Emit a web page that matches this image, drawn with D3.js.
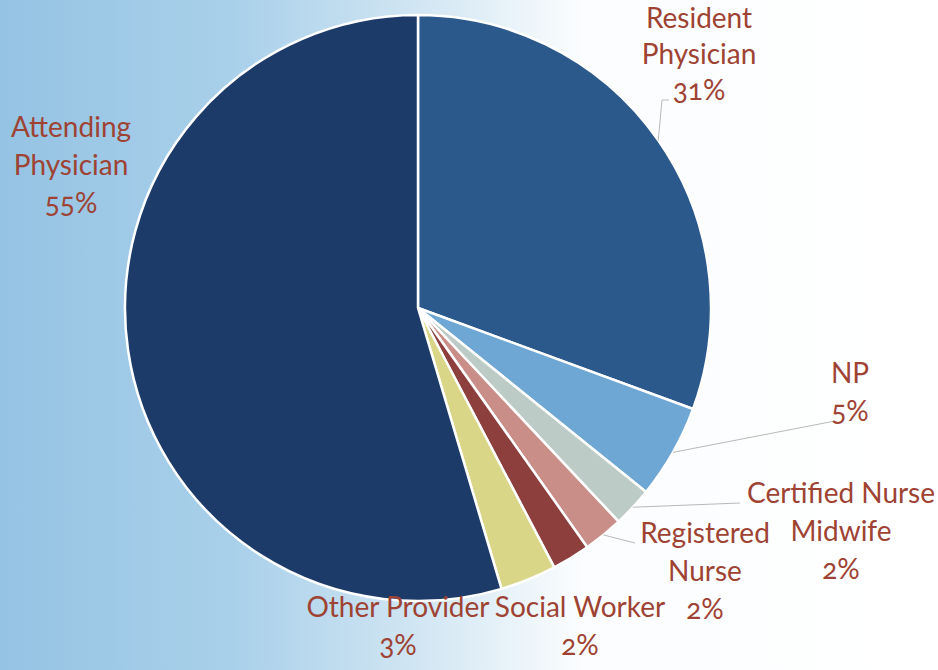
<!DOCTYPE html>
<html>
<head>
<meta charset="utf-8">
<script src="https://cdn.jsdelivr.net/npm/d3@7"></script>
<style>
  html, body { margin: 0; padding: 0; }
  body { width: 938px; height: 670px; overflow: hidden; }
  text { font-feature-settings: "onum" 1; }
</style>
</head>
<body>
<div id="chart"></div>
<script>

// provider shares, clockwise from 12 o'clock
var providers = ["Resident Physician", "NP", "Certified Nurse Midwife", "Registered Nurse",
                 "Social Worker", "Other Provider", "Attending Physician"];
var shares = [30.6, 5.2, 2.2, 2.2, 2.1, 3.1, 54.6];
var pctLabels = ["31%", "5%", "2%", "2%", "2%", "3%", "55%"];
var colors = ["#2b598c", "#6ea6d4", "#bccbc6", "#c88e87", "#8c3f3d", "#d9d787", "#1c3b69"];

// label lines for each slice (text broken as in the picture)
var labelLines = [
    ["Resident", "Physician", "31%"],
    ["NP", "5%"],
    ["Certified Nurse", "Midwife", "2%"],
    ["Registered", "Nurse", "2%"],
    ["Social Worker", "2%"],
    ["Other Provider", "3%"],
    ["Attending", "Physician", "55%"]
];

window.onload = function() {

    var width = 938,
        height = 670,
        cx = 418,
        cy = 308,
        radius = 293;

    var svg = d3.select("#chart").append("svg")
        .attr("width", width)
        .attr("height", height);

    // photo-like background: light blue on the left fading to white
    var defs = svg.append("defs");
    var grad = defs.append("linearGradient")
        .attr("id", "bg")
        .attr("x1", "0%").attr("y1", "0%")
        .attr("x2", "100%").attr("y2", "0%");
    grad.append("stop").attr("offset", "0%").attr("stop-color", "#95c3e3");
    grad.append("stop").attr("offset", "25%").attr("stop-color", "#a9d0ea");
    grad.append("stop").attr("offset", "45%").attr("stop-color", "#d2e6f3");
    grad.append("stop").attr("offset", "62%").attr("stop-color", "#fbfdfe");
    grad.append("stop").attr("offset", "100%").attr("stop-color", "#ffffff");

    svg.append("rect")
        .attr("width", width)
        .attr("height", height)
        .attr("fill", "url(#bg)");

    var pie = d3.pie()
        .sort(null)
        .value(function(d) { return d; });

    var arc = d3.arc()
        .innerRadius(0)
        .outerRadius(radius);

    var outer = d3.arc()
        .innerRadius(radius)
        .outerRadius(radius);

    var arcs = pie(shares);

    var g = svg.append("g")
        .attr("transform", "translate(" + cx + "," + cy + ")");

    g.selectAll("path.slice")
        .data(arcs)
        .enter().append("path")
        .attr("class", "slice")
        .attr("d", arc)
        .attr("fill", function(d, i) { return colors[i]; })
        .attr("stroke", "#ffffff")
        .attr("stroke-width", 2.5)
        .attr("stroke-linejoin", "round");

    // label placement (centre x, first baseline y)
    var labelPos = [
        [699, 28], [850, 383], [841, 503], [705, 543],
        [580, 617], [398, 617], [71, 137]
    ];
    var lineGap = 38;

    // leader lines: from slice edge to a point near the label
    var leaderEnds = [
        [[662, 100], [669, 100]],
        [[835, 421]],
        [[740, 503]],
        [[635, 543]],
        null, null, null
    ];

    arcs.forEach(function(d, i) {
        if (!leaderEnds[i]) return;
        var p = outer.centroid(d);
        var pts = [[cx + p[0], cy + p[1]]].concat(leaderEnds[i]);
        svg.append("path")
            .attr("d", d3.line()(pts))
            .attr("fill", "none")
            .attr("stroke", "#b9b9b9")
            .attr("stroke-width", 1);
    });

    var labels = svg.append("g")
        .attr("font-family", "Lato, 'Open Sans', sans-serif")
        .attr("font-size", 28)
        .attr("fill", "#9e4333")
        .attr("text-anchor", "middle");

    labelLines.forEach(function(lines, i) {
        var t = labels.append("text")
            .attr("x", labelPos[i][0])
            .attr("y", labelPos[i][1]);
        var gap = i === 0 ? 36 : lineGap;
        lines.forEach(function(s, j) {
            t.append("tspan")
                .attr("x", labelPos[i][0])
                .attr("y", labelPos[i][1] + j * gap)
                .text(s);
        });
    });

};
</script>
</body>
</html>
